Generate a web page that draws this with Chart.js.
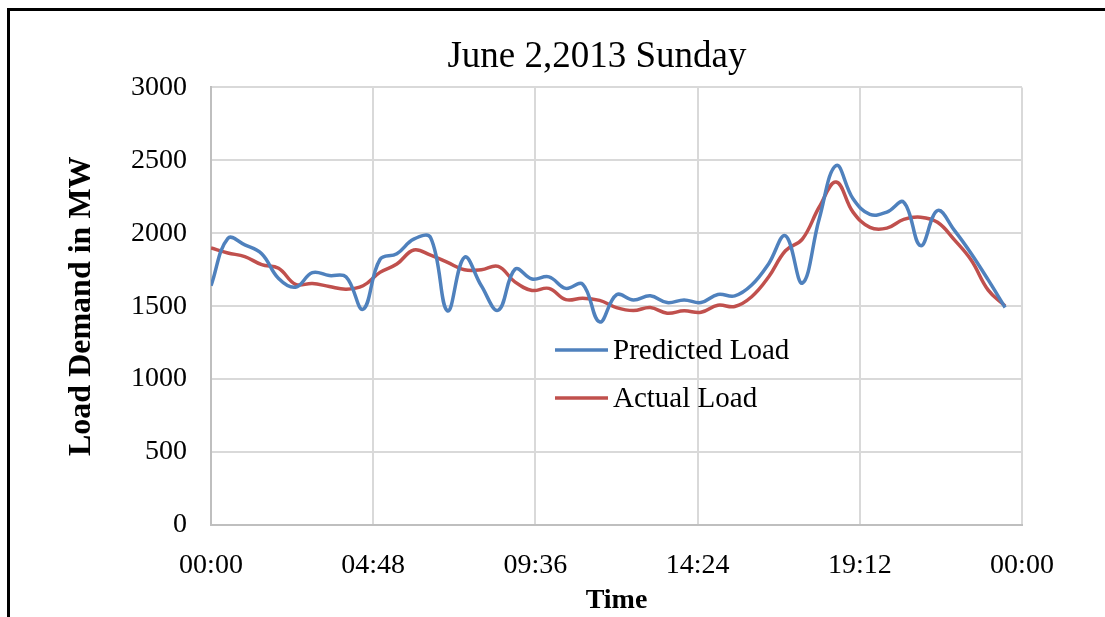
<!DOCTYPE html>
<html>
<head>
<meta charset="utf-8">
<script src="https://cdn.jsdelivr.net/npm/chart.js@4"></script>
<style>
  html, body { margin: 0; padding: 0; background: #fff; overflow: hidden; }
  #wrap { position: relative; width: 1105px; height: 617px; overflow: hidden; }
  #frame { position: absolute; left: 7px; top: 8px; width: 1200px; height: 700px;
           border-top: 3px solid #000; border-left: 3px solid #000; pointer-events: none; }
  canvas { position: absolute; left: 0; top: 0; }
</style>
</head>
<body>
<div id="wrap">
  <!-- canvas runs past the window: the original frame is wider than the crop -->
  <canvas id="loadChart" width="1194" height="617"></canvas>
  <div id="frame"></div>
</div>
<script>
// half-hour samples, 00:00 .. 23:30 (minutes since midnight)
const times = [];
for (let i = 0; i < 48; i++) times.push(i * 30);

const predictedLoad = [
  1640, 1965, 1920, 1860, 1690, 1630, 1730, 1710, 1700, 1479,
  1820, 1860, 1960, 1970, 1468, 1835, 1640, 1472, 1754, 1686,
  1701, 1622, 1651, 1392, 1578, 1543, 1571, 1525, 1543, 1525,
  1580, 1571, 1645, 1790, 1983, 1658, 2100, 2465, 2236, 2130,
  2145, 2213, 1915, 2156, 2020, 1860, 1680, 1491
];
const actualLoad = [
  1899, 1865, 1840, 1785, 1760, 1650, 1656, 1635, 1617, 1640,
  1732, 1789, 1885, 1850, 1800, 1750, 1750, 1773, 1665, 1608,
  1622, 1545, 1555, 1540, 1490, 1470, 1491, 1452, 1468, 1458,
  1507, 1498, 1565, 1700, 1880, 1960, 2180, 2351, 2145, 2040,
  2035, 2095, 2110, 2075, 1955, 1815, 1610, 1502
];
const xTickLabels = ["00:00", "04:48", "09:36", "14:24", "19:12", "00:00"];
const yTicks = [0, 500, 1000, 1500, 2000, 2500, 3000];

const serif = "'Liberation Serif', 'Times New Roman', serif";
const blue = "#4f81bd";
const red = "#c0504d";

function toPoints(vals) {
  return vals.map((v, i) => ({ x: times[i], y: v }));
}

// legend drawn inside the plot like the Excel original
const innerLegend = {
  id: "innerLegend",
  afterDraw(chart) {
    const ctx = chart.ctx;
    const items = [["Predicted Load", blue, 350], ["Actual Load", red, 398]];
    ctx.save();
    ctx.font = "29px " + serif;
    ctx.textBaseline = "middle";
    items.forEach(([label, color, y]) => {
      ctx.strokeStyle = color;
      ctx.lineWidth = 3.5;
      ctx.beginPath();
      ctx.moveTo(555, y);
      ctx.lineTo(608, y);
      ctx.stroke();
      ctx.fillStyle = "#000";
      ctx.fillText(label, 613, y + 1);
    });
    ctx.restore();
  }
};

new Chart(document.getElementById("loadChart"), {
  type: "line",
  data: {
    datasets: [
      { label: "Predicted Load", data: toPoints(predictedLoad), borderColor: blue,
        borderWidth: 3.5, pointRadius: 0, tension: 0.4, fill: false },
      { label: "Actual Load", data: toPoints(actualLoad), borderColor: red,
        borderWidth: 3.5, pointRadius: 0, tension: 0.4, fill: false }
    ]
  },
  options: {
    responsive: false,
    animation: false,
    layout: { padding: 0 },
    plugins: {
      legend: { display: false },
      tooltip: { enabled: false },
      title: {
        display: true,
        text: "June 2,2013 Sunday",
        color: "#000",
        font: { family: serif, size: 37, weight: "normal", lineHeight: 1.2 },
        padding: { top: 35, bottom: 8 }
      }
    },
    scales: {
      x: {
        type: "linear",
        min: 0,
        max: 1440,
        afterBuildTicks(scale) {
          scale.ticks = xTickLabels.map((t, i) => ({ value: i * 288 }));
        },
        afterFit(scale) { scale.height = 92; },
        ticks: {
          color: "#000",
          font: { family: serif, size: 28 },
          padding: 24,
          maxRotation: 0,
          callback: (v, i) => xTickLabels[i]
        },
        grid: { color: "#d9d9d9", lineWidth: 2, drawTicks: false },
        border: { color: "#bfbfbf", width: 2 },
        title: {
          display: true,
          text: "Time",
          color: "#000",
          font: { family: serif, size: 28, weight: "bold", lineHeight: 1 },
          padding: { top: 0, bottom: 2 }
        }
      },
      y: {
        min: 0,
        max: 3000,
        afterBuildTicks(scale) {
          scale.ticks = yTicks.map(v => ({ value: v }));
        },
        afterFit(scale) { scale.width = 211; },
        ticks: {
          color: "#000",
          font: { family: serif, size: 28 },
          padding: 24,
          callback: v => String(v)
        },
        grid: { color: "#d9d9d9", lineWidth: 2, drawTicks: false },
        border: { color: "#bfbfbf", width: 2 },
        title: {
          display: true,
          text: "Load Demand in MW",
          color: "#000",
          font: { family: serif, size: 32, weight: "bold", lineHeight: 1.2 },
          padding: { top: 63, bottom: 0 }
        }
      },
      // empty right-hand spacer so the plot ends where the original does
      spacer: {
        position: "right",
        min: 0,
        max: 3000,
        afterFit(scale) { scale.width = 172; },
        ticks: { display: false },
        grid: { display: false },
        border: { display: false }
      }
    }
  },
  plugins: [innerLegend]
});
</script>
</body>
</html>
